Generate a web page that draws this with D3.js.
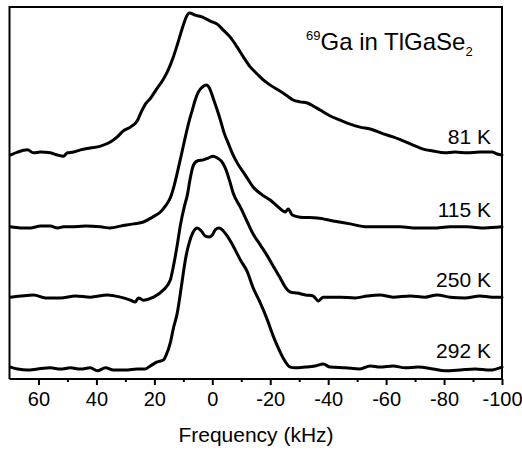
<!DOCTYPE html>
<html>
<head>
<meta charset="utf-8">
<script src="https://cdn.jsdelivr.net/npm/d3@7"></script>
<style>
  html, body { margin: 0; padding: 0; background: #fff; }
  svg { display: block; }
  text { font-family: "Liberation Sans", Arial, Helvetica, sans-serif; fill: #000; }
</style>
</head>
<body>
<svg id="chart" width="522" height="455"></svg>
<script>
// ---------------- data ----------------
const temperatures = ["81 K", "115 K", "250 K", "292 K"];
// vertical offset (baseline) of each stacked spectrum, arbitrary units
const baselines = [60.5, 40.9, 22.0, 3.0];

const freq81 = [69.7,67.2,63.8,61.7,59.3,55.9,53.4,51.4,50.0,47.9,45.5,42.1,38.6,35.2,32.8,30.7,28.3,25.9,24.5,23.1,21.4,19.0,16.9,15.2,13.8,12.1,10.3,9.0,7.9,5.9,3.4,0.7,-1.7,-3.8,-6.2,-8.6,-10.7,-13.1,-15.5,-17.6,-20.0,-22.8,-25.9,-27.9,-30.3,-32.8,-34.8,-37.2,-40.7,-44.1,-47.6,-51.0,-54.5,-59.0,-62.4,-65.9,-69.3,-72.8,-76.2,-80.3,-83.8,-87.9,-92.4,-96.6,-98.3,-100.0];
const int81 = [60.2,61.0,61.6,60.8,61.0,60.8,60.2,59.9,60.8,61.0,61.6,62.1,62.6,63.7,65.1,66.7,67.7,69.4,71.8,73.9,75.4,78.2,80.6,83.1,85.8,89.8,94.4,97.3,98.4,97.8,97.3,96.2,95.4,93.8,91.9,89.2,86.6,83.9,82.0,80.4,79.0,77.7,76.1,75.0,74.5,74.2,73.4,72.3,70.7,69.6,68.5,67.7,67.2,65.9,65.1,64.0,62.9,61.8,61.3,60.8,61.0,60.8,61.0,61.0,60.5,60.2];

const freq115 = [69.7,66.2,62.8,59.3,55.9,53.4,51.4,49.0,43.8,38.6,35.2,31.7,27.2,23.8,20.7,17.9,15.9,14.5,13.1,12.1,10.7,9.3,7.9,6.9,5.9,4.8,3.4,2.1,1.0,-0.3,-1.7,-2.8,-4.1,-5.5,-7.2,-8.6,-11.4,-14.1,-17.2,-20.0,-22.8,-25.2,-26.2,-27.6,-30.3,-36.2,-41.7,-47.6,-53.4,-59.7,-64.8,-70.7,-76.2,-82.1,-87.9,-94.1,-100.0];
const int115 = [40.9,40.6,40.6,41.1,41.1,40.6,40.9,40.9,41.1,40.9,40.6,41.1,41.7,42.2,43.5,44.9,46.8,48.7,52.2,55.4,60.2,65.1,69.6,72.3,75.0,77.2,78.5,79.0,78.2,75.5,72.3,69.6,66.1,63.4,60.2,58.1,54.8,51.6,49.5,48.1,46.2,44.9,45.7,44.1,43.5,43.3,42.5,41.7,40.9,40.9,40.9,40.6,40.6,40.9,40.9,40.6,40.9];

const freq250 = [69.7,66.2,61.7,57.6,52.4,47.2,42.1,36.2,31.7,28.3,26.6,25.5,23.8,20.3,16.9,14.5,13.4,12.1,11.0,9.7,8.6,7.6,6.6,5.2,3.1,1.4,-0.3,-1.7,-3.1,-4.5,-6.2,-7.2,-9.7,-12.1,-14.1,-16.6,-19.0,-21.0,-23.4,-25.2,-26.9,-29.3,-32.1,-34.8,-36.6,-38.3,-44.1,-49.3,-53.4,-57.9,-62.4,-68.3,-73.4,-77.6,-82.1,-87.2,-92.4,-96.6,-100.0];
const int250 = [22.0,22.3,22.6,21.8,21.8,22.3,22.0,22.6,22.0,21.2,20.7,21.8,21.2,22.0,23.9,26.6,30.4,36.0,41.4,46.2,49.5,54.0,57.3,58.6,58.9,59.4,59.9,59.4,58.6,56.7,52.7,50.0,46.2,42.2,39.0,36.0,33.1,30.4,27.2,24.7,23.4,23.1,22.6,22.3,21.0,22.0,22.0,21.8,22.3,22.6,22.0,22.3,22.0,22.6,22.0,21.8,22.3,22.0,22.0];

const freq292 = [69.7,67.2,63.8,60.3,55.9,52.4,49.0,45.5,42.1,39.7,36.9,34.1,30.0,25.9,23.1,21.4,19.0,16.9,15.9,14.5,13.4,12.1,11.0,10.0,9.0,7.9,6.6,5.2,3.8,2.4,1.0,0.0,-1.0,-2.4,-3.8,-5.2,-6.6,-7.9,-9.7,-12.1,-14.1,-16.6,-19.0,-21.0,-22.8,-24.5,-26.9,-28.6,-32.1,-35.5,-38.3,-40.7,-45.9,-51.0,-54.5,-57.9,-62.4,-66.6,-71.0,-76.2,-80.3,-85.5,-90.7,-95.9,-100.0];
const int292 = [3.2,2.7,2.4,2.7,3.0,2.7,3.0,2.7,3.0,2.2,3.0,2.4,2.4,2.7,2.7,3.5,4.6,5.1,6.5,9.7,13.7,17.7,23.1,28.5,33.3,36.8,39.5,40.6,39.8,38.4,38.2,38.7,40.1,40.6,39.8,38.4,36.6,34.7,32.0,28.8,24.5,20.4,15.9,11.6,8.3,5.6,3.2,3.0,3.2,3.5,4.0,3.2,3.0,2.7,3.5,3.2,3.5,3.0,3.2,2.7,2.2,2.4,2.7,2.4,3.2];

const majorTicks = [60, 40, 20, 0, -20, -40, -60, -80, -100];
const minorTicks = [50, 30, 10, -10, -30, -50, -70, -90];
const xDomain = [70, -100];
const yDomain = [0, 100];
const xTitle = "Frequency (kHz)";

// ---------------- chart ----------------
(function draw() {
  const series = [
    { label: temperatures[0], base: baselines[0], f: freq81,  v: int81 },
    { label: temperatures[1], base: baselines[1], f: freq115, v: int115 },
    { label: temperatures[2], base: baselines[2], f: freq250, v: int250 },
    { label: temperatures[3], base: baselines[3], f: freq292, v: int292 }
  ];

  const svg = d3.select("#chart");
  const pL = 9.5, pR = 502, pT = 7, pB = 379;

  const x = d3.scaleLinear().domain(xDomain).range([pL, pR]);
  const y = d3.scaleLinear().domain(yDomain).range([pB, pT]);

  // frame
  svg.append("path")
    .attr("d", `M${pL},${pB}V${pT}H${pR}V${pB}`)
    .attr("fill", "none").attr("stroke", "#000").attr("stroke-width", 2);

  // x axis: major ticks with labels
  const ax = svg.append("g").attr("transform", `translate(0,${pB})`)
    .call(d3.axisBottom(x).tickValues(majorTicks).tickSize(6).tickPadding(7)
          .tickFormat(d => String(d)));
  ax.select(".domain").attr("stroke-width", 2).attr("d", `M${pL},0H${pR}`);
  ax.selectAll(".tick line").attr("stroke-width", 2);
  ax.selectAll(".tick text")
    .style("font-family", '"Liberation Sans", Arial, Helvetica, sans-serif')
    .style("font-size", "20px").attr("fill", "#000");

  // minor ticks
  const axm = svg.append("g").attr("transform", `translate(0,${pB})`)
    .call(d3.axisBottom(x).tickValues(minorTicks).tickSize(3).tickFormat(""));
  axm.select(".domain").remove();
  axm.selectAll(".tick line").attr("stroke-width", 2);

  // spectra
  const line = d3.line()
    .x(d => x(d[0]))
    .y(d => y(d[1]))
    .curve(d3.curveMonotoneX);

  series.forEach(s => {
    const pts = d3.zip(s.f, s.v).sort((a, b) => b[0] - a[0]);
    svg.append("path")
      .datum(pts)
      .attr("d", line)
      .attr("fill", "none")
      .attr("stroke", "#000")
      .attr("stroke-width", 3)
      .attr("stroke-linejoin", "round")
      .attr("stroke-linecap", "round");
    svg.append("text")
      .attr("x", 491)
      .attr("y", y(s.base) - 10)
      .attr("text-anchor", "end")
      .style("font-size", "21px")
      .text(s.label);
  });

  // title with superscript / subscript
  const t = svg.append("text").attr("x", 306).attr("y", 50);
  t.append("tspan").attr("dy", -10).style("font-size", "13px").text("69");
  t.append("tspan").attr("dy", 10).style("font-size", "24px").text("Ga in TlGaSe");
  t.append("tspan").attr("dy", 6).style("font-size", "13px").text("2");

  // x axis title
  svg.append("text")
    .attr("x", 256).attr("y", 442)
    .attr("text-anchor", "middle")
    .style("font-size", "21px")
    .text(xTitle);
})();
</script>
</body>
</html>
